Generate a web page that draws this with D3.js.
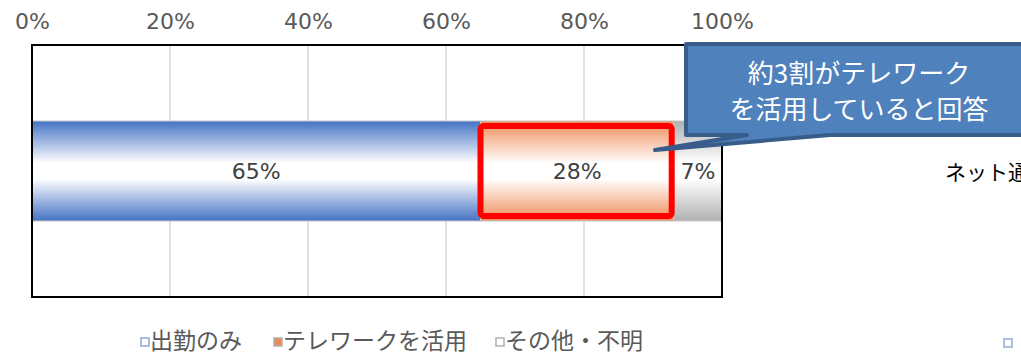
<!DOCTYPE html>
<html>
<head>
<meta charset="utf-8">
<script src="https://cdn.jsdelivr.net/npm/d3@7"></script>
<style>
  body { margin: 0; background: #fff; }
  svg { display: block; font-family: "Noto Sans CJK JP", "Noto Sans", sans-serif; }
</style>
</head>
<body>
<svg width="1021" height="355"></svg>
<script>
const categories = ["出勤のみ", "テレワークを活用", "その他・不明"];
const values = [65, 28, 7];
const tickValues = [0, 20, 40, 60, 80, 100];
const colors = ["#4472c4", "#ee8a55", "#b0b0b0"];
const highlighted = "テレワークを活用";
const calloutLines = ["約3割がテレワーク", "を活用していると回答"];

const margin = { top: 45, left: 32 };
const plotW = 690, plotH = 252;

const svg = d3.select("svg");

const x = d3.scaleLinear().domain([0, 100]).range([margin.left, margin.left + plotW]);
const y = d3.scaleBand().domain(["row"]).range([margin.top, margin.top + plotH]).paddingOuter(0.76);

// gradients
const defs = svg.append("defs");
colors.forEach((c, i) => {
  const g = defs.append("linearGradient").attr("id", "g" + i)
    .attr("x1", 0).attr("y1", 0).attr("x2", 0).attr("y2", 1);
  g.append("stop").attr("offset", "0%").attr("stop-color", c);
  g.append("stop").attr("offset", "42%").attr("stop-color", "#ffffff");
  g.append("stop").attr("offset", "58%").attr("stop-color", "#ffffff");
  g.append("stop").attr("offset", "100%").attr("stop-color", c);
});

// gridlines
svg.append("g")
  .selectAll("line").data(tickValues.slice(1, -1)).join("line")
  .attr("x1", d => x(d)).attr("x2", d => x(d))
  .attr("y1", margin.top).attr("y2", margin.top + plotH)
  .attr("stroke", "#d9d9d9").attr("stroke-width", 1.5);

// top axis
const axis = svg.append("g")
  .attr("transform", `translate(0,${margin.top})`)
  .call(d3.axisTop(x).tickValues(tickValues).tickFormat(d => d + "%").tickSize(0).tickPadding(16));
axis.select(".domain").remove();
axis.selectAll("text")
  .attr("fill", "#595959")
  .style("font-size", "22px")
  .style("font-family", "'DejaVu Sans', sans-serif");

// stacked bar
let acc = 0;
const segs = values.map((v, i) => {
  const s = { name: categories[i], v, x0: acc, x1: acc + v, i };
  acc += v;
  return s;
});

const bandY = y("row"), bandH = y.bandwidth();

svg.append("g").selectAll("rect").data(segs).join("rect")
  .attr("x", d => x(d.x0)).attr("width", d => x(d.x1) - x(d.x0))
  .attr("y", bandY).attr("height", bandH)
  .attr("fill", d => "url(#g" + d.i + ")")
  .attr("stroke", "#c8c8c8").attr("stroke-width", 1);

// highlight box
const hi = segs.find(d => d.name === highlighted);
svg.append("rect")
  .attr("x", x(hi.x0)).attr("width", x(hi.x1) - x(hi.x0) - 2)
  .attr("y", bandY + 5).attr("height", bandH - 10)
  .attr("rx", 3)
  .attr("fill", "none").attr("stroke", "#ff0000").attr("stroke-width", 6);

// value labels
svg.append("g").selectAll("text").data(segs).join("text")
  .attr("x", d => (x(d.x0) + x(d.x1)) / 2)
  .attr("y", bandY + bandH / 2 + 8)
  .attr("text-anchor", "middle")
  .attr("fill", "#404040")
  .style("font-size", "22px")
  .style("font-family", "'DejaVu Sans', sans-serif")
  .text(d => d.v + "%");

// plot frame
svg.append("rect")
  .attr("x", margin.left).attr("y", margin.top)
  .attr("width", plotW).attr("height", plotH)
  .attr("fill", "none").attr("stroke", "#000").attr("stroke-width", 2);

// legend
const legendX = [141, 274, 496];
const lg = svg.append("g").selectAll("g").data(categories).join("g")
  .attr("transform", (d, i) => `translate(${legendX[i]},342)`);
lg.append("rect").attr("x", 0).attr("y", -4).attr("width", 8).attr("height", 8)
  .attr("fill", (d, i) => i === 1 ? colors[1] : "#ffffff")
  .attr("stroke", (d, i) => i === 0 ? "#8fa9d8" : "#b0b0b0").attr("stroke-width", 1.5);
lg.append("text").attr("x", 9).attr("y", 7)
  .attr("fill", "#595959").style("font-size", "23px")
  .text(d => d);

// callout
const cx0 = 686, cy0 = 44, cx1 = 1030, cy1 = 135;
const tip = [655, 150];
svg.append("path")
  .attr("d", `M${cx0},${cy0} H${cx1} V${cy1} H830 L${tip[0]},${tip[1]} L747,${cy1} H${cx0} Z`)
  .attr("fill", "#4f81bd").attr("stroke", "#385d8a").attr("stroke-width", 4)
  .attr("stroke-linejoin", "round");
svg.append("g").selectAll("text").data(calloutLines).join("text")
  .attr("x", 859).attr("y", (d, i) => 83 + i * 36)
  .attr("text-anchor", "middle").attr("fill", "#ffffff")
  .style("font-size", "26px")
  .text(d => d);

// neighbouring chart fragment (cut off at the right edge, as in the source)
svg.append("text").attr("x", 945).attr("y", 180)
  .attr("fill", "#000").style("font-size", "21px").text("ネット通");
svg.append("rect").attr("x", 1004).attr("y", 339).attr("width", 8).attr("height", 8)
  .attr("fill", "#fff").attr("stroke", "#8fa9d8").attr("stroke-width", 1.5);
</script>
</body>
</html>
